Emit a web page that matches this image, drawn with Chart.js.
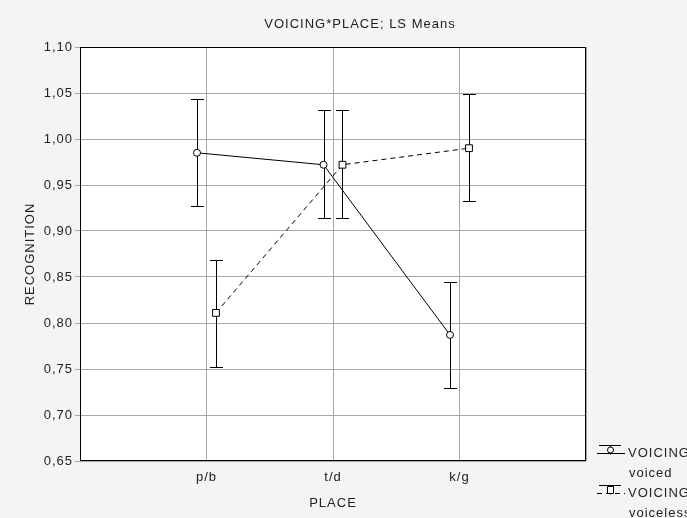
<!DOCTYPE html>
<html>
<head>
<meta charset="utf-8">
<script src="https://cdn.jsdelivr.net/npm/chart.js@4/dist/chart.umd.min.js"></script>
<style>
  html, body { margin: 0; padding: 0; background: #f4f4f4; }
  #wrap { width: 687px; height: 518px; }
</style>
</head>
<body>
<div id="wrap"><canvas id="c" width="687" height="518"></canvas></div>
<script>
// ---- data ----
const categories = ['p/b', 't/d', 'k/g'];
const voicedMeans = [0.985, 0.972, 0.787];
const voicedLow   = [0.927, 0.914, 0.729];
const voicedHigh  = [1.044, 1.031, 0.845];
const voicelessMeans = [0.811, 0.972, 0.990];
const voicelessLow   = [0.752, 0.914, 0.933];
const voicelessHigh  = [0.868, 1.031, 1.049];
const seriesLabels = ['voiced', 'voiceless'];
const factorName = 'VOICING';
const chartTitle = 'VOICING*PLACE; LS Means';
const yTitle = 'RECOGNITION';
const xTitle = 'PLACE';
const yMin = 0.65, yMax = 1.10, yStep = 0.05;

// ---- styling / layout ----
const FONT = "'Liberation Sans', Arial, sans-serif";
const OFFSET = 0.075; // horizontal dodge of the two series, in category units
const GRID = '#a8a8a8';

Chart.defaults.font.family = FONT;
Chart.defaults.font.size = 13;
Chart.defaults.color = '#222';

function pts(means, dx) {
  return means.map((v, i) => ({ x: i + 1 + dx, y: v }));
}

const bgPlugin = {
  id: 'bg',
  beforeDraw(chart) {
    const { ctx, chartArea: a } = chart;
    ctx.save();
    ctx.fillStyle = '#f4f4f4';
    ctx.fillRect(0, 0, chart.width, chart.height);
    ctx.fillStyle = '#ffffff';
    ctx.fillRect(a.left, a.top, a.right - a.left, a.bottom - a.top);
    ctx.restore();
    ctx.letterSpacing = '1px';
  }
};

const framePlugin = {
  id: 'frame',
  beforeDatasetsDraw(chart) {
    const { ctx, chartArea: a, scales } = chart;
    ctx.save();
    // frame
    ctx.strokeStyle = '#000';
    ctx.lineWidth = 1;
    const l = Math.round(a.left) + 0.5, r = Math.round(a.right) - 0.5;
    const t = Math.round(a.top) + 0.5, b = Math.round(a.bottom) - 0.5;
    ctx.strokeRect(l, t, r - l, b - t);
    // error bars
    chart.data.datasets.forEach(ds => {
      ds.data.forEach((p, i) => {
        const x = Math.round(scales.x.getPixelForValue(p.x)) + 0.5;
        const y1 = Math.round(scales.y.getPixelForValue(ds.errLow[i])) + 0.5;
        const y2 = Math.round(scales.y.getPixelForValue(ds.errHigh[i])) + 0.5;
        ctx.beginPath();
        ctx.moveTo(x, y1); ctx.lineTo(x, y2);
        ctx.moveTo(x - 6.5, y1); ctx.lineTo(x + 6.5, y1);
        ctx.moveTo(x - 6.5, y2); ctx.lineTo(x + 6.5, y2);
        ctx.stroke();
      });
    });
    ctx.restore();
  }
};

const textPlugin = {
  id: 'texts',
  afterDraw(chart) {
    const { ctx } = chart;
    ctx.save();
    ctx.letterSpacing = '1px';
    ctx.fillStyle = '#222';
    ctx.font = '13px ' + FONT;
    ctx.textBaseline = 'middle';
    ctx.textAlign = 'center';
    ctx.fillText(chartTitle, 360, 24);

    // legend
    ctx.textAlign = 'left';
    chart.data.datasets.forEach((ds, k) => {
      const yc = 450 + k * 40;
      const ix = 610;
      ctx.strokeStyle = '#000';
      ctx.lineWidth = 1;
      ctx.setLineDash([]);
      ctx.beginPath();
      ctx.moveTo(599, yc - 4.5); ctx.lineTo(621, yc - 4.5); // cap
      ctx.moveTo(ix + 0.5, yc - 4.5); ctx.lineTo(ix + 0.5, yc + 4.5);
      ctx.stroke();
      ctx.setLineDash(ds.borderDash || []);
      ctx.beginPath();
      ctx.moveTo(597, yc + 3.5); ctx.lineTo(625, yc + 3.5);
      ctx.stroke();
      ctx.setLineDash([]);
      ctx.fillStyle = '#fff';
      ctx.beginPath();
      if (ds.pointStyle === 'rect') {
        ctx.rect(ix - 2.5, yc - 3.5, 6, 7);
      } else {
        ctx.arc(ix + 0.5, yc, 3, 0, Math.PI * 2);
      }
      ctx.fill(); ctx.stroke();
      ctx.fillStyle = '#222';
      ctx.fillText(factorName, 628, yc + 3);
      ctx.fillText(ds.label, 629, yc + 23);
    });
    ctx.restore();
  }
};

new Chart(document.getElementById('c'), {
  type: 'scatter',
  data: {
    datasets: [
      {
        label: seriesLabels[0],
        data: pts(voicedMeans, -OFFSET),
        errLow: voicedLow, errHigh: voicedHigh,
        showLine: true,
        borderColor: '#000', borderWidth: 1,
        pointStyle: 'circle', pointRadius: 3.5, pointHoverRadius: 3.5,
        pointBackgroundColor: '#fff', pointBorderColor: '#000', pointBorderWidth: 1
      },
      {
        label: seriesLabels[1],
        data: pts(voicelessMeans, OFFSET),
        errLow: voicelessLow, errHigh: voicelessHigh,
        showLine: true,
        borderColor: '#000', borderWidth: 1, borderDash: [5, 4],
        pointStyle: 'rect', pointRadius: 4.8, pointHoverRadius: 4.8,
        pointBackgroundColor: '#fff', pointBorderColor: '#000', pointBorderWidth: 1
      }
    ]
  },
  options: {
    responsive: false,
    animation: false,
    events: [],
    layout: { padding: { left: 0, top: 47, right: 101, bottom: 0 } },
    plugins: { legend: { display: false }, title: { display: false }, tooltip: { enabled: false } },
    scales: {
      x: {
        type: 'linear', min: 0, max: 4,
        border: { display: false },
        grid: { color: GRID, drawTicks: false },
        ticks: {
          stepSize: 1, autoSkip: false, maxRotation: 0, padding: 9,
          callback: v => (Number.isInteger(v) && v >= 1 && v <= categories.length) ? categories[v - 1] : ''
        },
        title: { display: true, text: xTitle, padding: { top: 0, bottom: 7 } },
        afterFit: s => { s.height = 57; }
      },
      y: {
        min: yMin, max: yMax,
        border: { display: false },
        grid: { color: GRID, tickLength: 5 },
        ticks: {
          stepSize: yStep, padding: 2,
          callback: v => v.toFixed(2).replace('.', ',')
        },
        title: { display: true, text: yTitle, padding: { top: 23, bottom: 0 } },
        afterFit: s => { s.width = 80; }
      }
    }
  },
  plugins: [bgPlugin, framePlugin, textPlugin]
});
</script>
</body>
</html>
